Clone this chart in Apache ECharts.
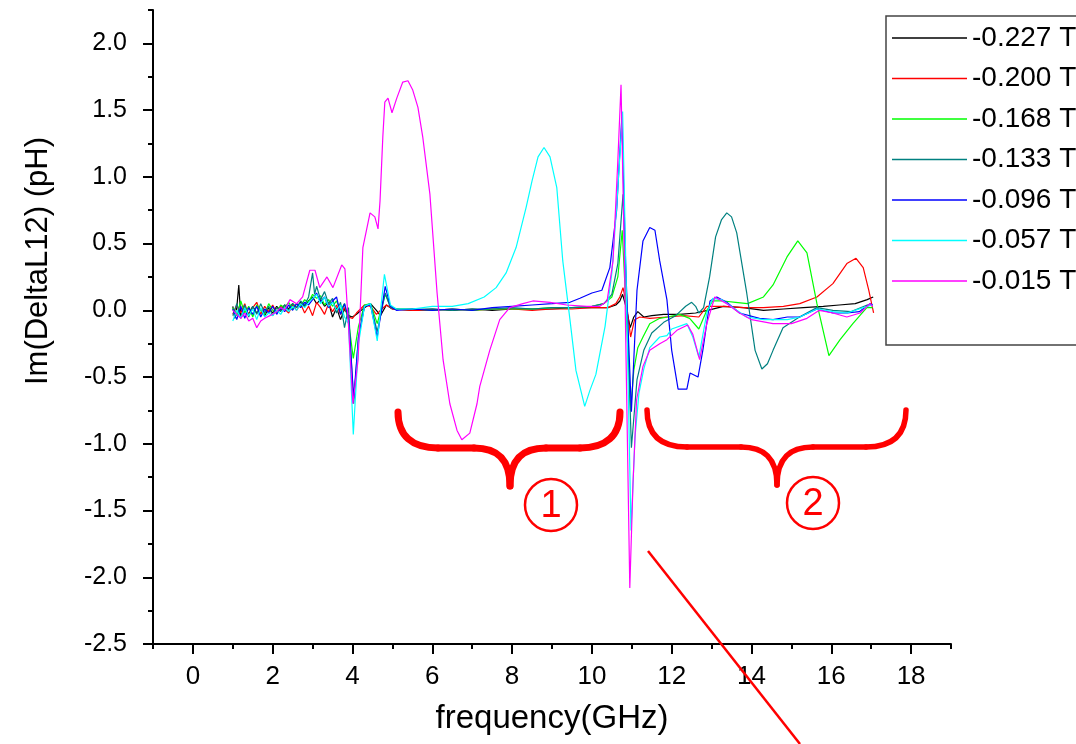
<!DOCTYPE html>
<html><head><meta charset="utf-8">
<script src="https://cdn.jsdelivr.net/npm/echarts@6/dist/echarts.min.js"></script>
<style>html,body{margin:0;padding:0;background:#fff}#c{width:1076px;height:744px}</style>
</head><body><div id="c"></div>
<script>
const seriesNames = ['-0.227 T','-0.200 T','-0.168 T','-0.133 T','-0.096 T','-0.057 T','-0.015 T'];
const seriesColors = ['#000000','#ff0000','#00ff00','#008080','#0000ff','#00ffff','#ff00ff'];
const xTickValues = [0,2,4,6,8,10,12,14,16,18];
const yTickValues = [-2.5,-2.0,-1.5,-1.0,-0.5,0.0,0.5,1.0,1.5,2.0];

const d227 = [[1.0,0.03],[1.05,-0.06],[1.1,0.02],[1.15,0.19],[1.2,-0.05],[1.3,0.02],[1.4,-0.03],[1.5,0.03],[1.6,-0.02],[1.7,0.01],[1.8,-0.04],[1.9,0.02],[2.0,-0.02],[2.1,0.03],[2.2,0.0],[2.3,0.04],[2.4,0.01],[2.5,0.05],[2.6,0.02],[2.7,0.06],[2.8,0.03],[2.9,0.07],[3.0,0.1],[3.1,0.05],[3.2,0.08],[3.3,0.03],[3.4,0.06],[3.5,-0.05],[3.6,0.02],[3.7,-0.07],[3.8,0.01],[3.9,-0.04],[4.0,-0.05],[4.1,-0.03],[4.3,0.02],[4.45,0.05],[4.6,0.0],[4.7,-0.04],[4.85,0.04],[5.0,0.01],[5.5,0.0],[6.0,0.01],[6.5,0.0],[7.0,0.01],[7.5,0.0],[8.0,0.01],[8.5,0.01],[9.0,0.01],[9.5,0.02],[10.0,0.02],[10.4,0.02],[10.6,0.04],[10.7,0.07],[10.77,0.12],[10.86,0.02],[10.96,-0.13],[11.05,-0.05],[11.15,-0.01],[11.3,-0.05],[11.5,-0.04],[11.8,-0.03],[12.2,-0.03],[12.6,-0.02],[12.9,0.0],[13.3,0.03],[13.8,0.02],[14.3,0.0],[14.8,0.01],[15.3,0.02],[15.8,0.03],[16.2,0.04],[16.6,0.05],[16.9,0.08],[17.05,0.1]];
const d200 = [[1.0,-0.03],[1.1,0.04],[1.2,-0.02],[1.3,0.05],[1.4,-0.04],[1.5,0.02],[1.6,0.06],[1.7,-0.03],[1.8,0.03],[1.9,-0.01],[2.0,0.04],[2.1,-0.02],[2.2,0.03],[2.3,0.01],[2.4,-0.02],[2.5,0.04],[2.6,0.0],[2.7,0.05],[2.8,-0.02],[2.9,0.03],[3.0,-0.04],[3.1,0.06],[3.2,0.02],[3.3,-0.03],[3.4,0.05],[3.5,-0.01],[3.6,0.04],[3.7,-0.03],[3.8,0.02],[3.9,-0.05],[4.0,-0.06],[4.1,-0.02],[4.3,0.04],[4.45,0.03],[4.6,-0.03],[4.7,0.0],[4.85,0.04],[5.0,0.01],[5.5,0.0],[6.0,0.0],[6.5,0.01],[7.0,0.0],[7.5,0.01],[8.0,0.01],[8.5,0.0],[9.0,0.01],[9.5,0.01],[10.0,0.02],[10.4,0.02],[10.6,0.05],[10.7,0.1],[10.78,0.17],[10.87,0.04],[10.97,-0.2],[11.07,-0.07],[11.2,-0.05],[11.45,-0.06],[11.88,-0.05],[12.3,-0.04],[12.68,-0.05],[12.88,0.03],[13.3,0.03],[13.8,0.02],[14.3,0.02],[14.8,0.03],[15.21,0.05],[15.64,0.1],[16.04,0.2],[16.39,0.35],[16.62,0.39],[16.8,0.32],[16.94,0.15],[17.06,-0.02]];
const d168 = [[1.0,0.02],[1.1,-0.04],[1.2,0.07],[1.3,-0.02],[1.4,0.03],[1.5,-0.05],[1.6,0.04],[1.7,0.0],[1.8,-0.03],[1.9,0.05],[2.0,0.0],[2.1,-0.02],[2.2,0.04],[2.3,0.02],[2.4,0.06],[2.5,0.01],[2.6,0.05],[2.7,0.03],[2.8,0.08],[2.9,0.06],[3.0,0.12],[3.1,0.09],[3.2,0.11],[3.3,0.04],[3.4,0.08],[3.5,0.03],[3.6,0.07],[3.7,0.0],[3.8,0.05],[3.9,-0.08],[4.02,-0.36],[4.15,-0.12],[4.3,0.04],[4.45,0.05],[4.62,-0.1],[4.82,0.12],[4.95,0.03],[5.1,0.01],[5.5,0.01],[6.0,0.0],[6.5,0.01],[7.0,0.0],[7.5,0.01],[8.0,0.01],[8.5,0.01],[9.0,0.02],[9.5,0.02],[10.0,0.03],[10.3,0.05],[10.5,0.1],[10.65,0.25],[10.76,0.6],[10.85,0.05],[10.97,-0.75],[11.05,-0.45],[11.15,-0.28],[11.28,-0.2],[11.45,-0.1],[11.7,-0.06],[11.9,-0.05],[12.2,-0.03],[12.45,-0.06],[12.68,-0.14],[12.88,0.0],[13.03,0.07],[13.3,0.07],[13.6,0.06],[13.9,0.05],[14.3,0.1],[14.54,0.19],[14.89,0.4],[15.16,0.52],[15.39,0.43],[15.64,0.05],[15.94,-0.34],[16.22,-0.22],[16.54,-0.1],[16.89,0.02],[17.04,0.02]];
const d133 = [[1.0,-0.04],[1.1,0.05],[1.2,-0.06],[1.3,0.04],[1.4,-0.05],[1.5,0.03],[1.6,-0.03],[1.7,0.05],[1.8,-0.02],[1.9,0.03],[2.0,-0.04],[2.1,0.02],[2.2,-0.01],[2.3,0.04],[2.4,0.0],[2.5,0.05],[2.6,0.02],[2.7,0.07],[2.8,0.04],[2.9,0.1],[3.0,0.28],[3.05,0.12],[3.1,0.18],[3.2,0.08],[3.3,0.14],[3.4,0.05],[3.5,0.09],[3.6,-0.02],[3.7,0.06],[3.8,-0.13],[3.9,0.02],[4.03,-0.7],[4.15,-0.2],[4.3,0.03],[4.45,0.05],[4.62,-0.16],[4.82,0.13],[4.95,0.02],[5.1,0.01],[5.5,0.01],[6.0,0.01],[6.5,0.0],[7.0,0.01],[7.5,0.01],[8.0,0.02],[8.5,0.01],[9.0,0.02],[9.5,0.02],[10.0,0.03],[10.3,0.05],[10.5,0.12],[10.65,0.35],[10.78,0.87],[10.87,0.1],[10.99,-1.03],[11.13,-0.52],[11.3,-0.3],[11.5,-0.17],[11.8,-0.09],[12.1,-0.04],[12.35,0.03],[12.5,0.06],[12.6,0.03],[12.68,-0.02],[12.8,0.02],[12.95,0.25],[13.1,0.55],[13.25,0.68],[13.38,0.73],[13.5,0.7],[13.63,0.58],[13.88,0.13],[14.09,-0.3],[14.26,-0.44],[14.4,-0.4],[14.54,-0.3],[14.79,-0.13],[15.2,-0.05],[15.64,0.02],[16.04,0.0],[16.5,-0.01],[16.9,0.04],[17.04,0.04]];
const d096 = [[1.0,0.01],[1.1,-0.07],[1.2,0.03],[1.3,-0.06],[1.4,0.02],[1.5,-0.03],[1.6,0.03],[1.7,-0.05],[1.8,0.01],[1.9,-0.02],[2.0,0.03],[2.1,-0.03],[2.2,0.02],[2.3,-0.01],[2.4,0.04],[2.5,0.0],[2.6,0.05],[2.7,0.02],[2.8,0.06],[2.9,0.04],[3.0,0.08],[3.1,0.13],[3.2,0.06],[3.3,0.1],[3.4,0.02],[3.5,0.07],[3.6,0.1],[3.7,-0.03],[3.8,0.05],[3.9,-0.06],[4.03,-0.66],[4.15,-0.2],[4.3,0.03],[4.45,0.04],[4.62,-0.2],[4.82,0.18],[4.95,0.03],[5.1,0.0],[5.5,0.01],[6.0,0.0],[6.5,0.01],[7.0,0.0],[7.5,0.02],[8.0,0.03],[8.5,0.04],[9.0,0.05],[9.45,0.06],[9.7,0.09],[10.0,0.13],[10.25,0.15],[10.45,0.32],[10.62,0.75],[10.75,1.45],[10.85,0.3],[10.99,-0.76],[11.13,0.15],[11.28,0.52],[11.45,0.62],[11.58,0.6],[11.7,0.37],[11.88,0.08],[12.0,-0.3],[12.16,-0.59],[12.38,-0.59],[12.46,-0.47],[12.66,-0.5],[12.78,-0.3],[12.96,0.07],[13.13,0.1],[13.38,0.06],[13.7,-0.02],[14.2,-0.06],[14.54,-0.07],[14.9,-0.05],[15.21,-0.05],[15.64,0.01],[16.04,-0.02],[16.4,-0.02],[16.7,-0.01],[16.97,0.05],[17.04,0.04]];
const d057 = [[1.0,-0.08],[1.1,0.0],[1.2,-0.06],[1.3,0.02],[1.4,-0.04],[1.5,0.01],[1.6,-0.07],[1.7,0.02],[1.8,-0.05],[1.9,-0.02],[2.0,-0.04],[2.1,0.0],[2.2,-0.03],[2.3,0.02],[2.4,-0.01],[2.5,0.03],[2.6,0.0],[2.7,0.05],[2.8,0.02],[2.9,0.06],[3.0,0.09],[3.1,0.12],[3.2,0.05],[3.3,0.1],[3.4,0.03],[3.5,0.06],[3.6,0.0],[3.7,0.04],[3.8,-0.05],[3.9,-0.1],[4.02,-0.93],[4.15,-0.25],[4.3,0.03],[4.45,0.05],[4.62,-0.23],[4.8,0.27],[4.95,0.04],[5.1,0.01],[5.5,0.01],[6.0,0.03],[6.5,0.03],[6.9,0.05],[7.3,0.1],[7.6,0.17],[7.85,0.28],[8.1,0.47],[8.35,0.77],[8.5,0.97],[8.65,1.15],[8.8,1.22],[8.95,1.15],[9.12,0.92],[9.27,0.37],[9.45,-0.07],[9.6,-0.45],[9.82,-0.72],[9.95,-0.6],[10.1,-0.48],[10.33,-0.12],[10.5,0.28],[10.63,0.82],[10.77,1.49],[10.86,0.2],[10.98,-1.65],[11.08,-0.95],[11.18,-0.62],[11.3,-0.44],[11.45,-0.28],[11.7,-0.2],[11.88,-0.19],[12.0,-0.14],[12.38,-0.1],[12.53,-0.2],[12.68,-0.35],[12.88,-0.02],[13.03,0.09],[13.25,0.08],[13.63,0.0],[13.88,-0.05],[14.3,-0.07],[14.9,-0.07],[15.21,-0.05],[15.64,0.01],[16.04,-0.01],[16.39,-0.02],[16.8,0.02],[17.04,0.04]];
const d015 = [[1.0,0.0],[1.1,-0.03],[1.2,-0.06],[1.3,-0.02],[1.4,-0.08],[1.5,-0.06],[1.6,-0.13],[1.7,-0.08],[1.8,-0.06],[1.93,-0.04],[2.1,-0.01],[2.2,0.02],[2.3,0.0],[2.43,0.08],[2.6,0.05],[2.75,0.1],[2.93,0.3],[3.06,0.3],[3.18,0.17],[3.36,0.25],[3.51,0.17],[3.73,0.34],[3.81,0.31],[3.9,-0.12],[4.01,-0.7],[4.14,-0.37],[4.26,0.47],[4.44,0.73],[4.56,0.7],[4.64,0.61],[4.69,0.82],[4.76,1.3],[4.81,1.56],[4.89,1.59],[4.99,1.48],[5.11,1.59],[5.26,1.71],[5.39,1.72],[5.51,1.65],[5.64,1.52],[5.76,1.3],[5.94,0.87],[6.12,0.13],[6.27,-0.37],[6.44,-0.7],[6.62,-0.9],[6.74,-0.97],[6.94,-0.92],[7.12,-0.7],[7.19,-0.57],[7.44,-0.3],[7.69,-0.07],[7.94,0.02],[8.27,0.05],[8.52,0.07],[8.95,0.06],[9.37,0.04],[9.87,0.03],[10.2,0.03],[10.38,0.07],[10.53,0.37],[10.65,1.12],[10.73,1.69],[10.82,0.3],[10.95,-2.08],[11.03,-1.3],[11.12,-0.67],[11.28,-0.42],[11.45,-0.3],[11.7,-0.25],[11.88,-0.22],[12.13,-0.15],[12.4,-0.11],[12.53,-0.18],[12.7,-0.37],[12.88,-0.1],[13.08,0.1],[13.38,0.05],[13.7,-0.02],[14.0,-0.07],[14.54,-0.1],[15.0,-0.1],[15.39,-0.06],[15.7,0.0],[16.04,-0.02],[16.39,-0.05],[16.72,-0.02],[16.97,0.05],[17.04,0.03]];

const seriesData = [d227, d200, d168, d133, d096, d057, d015];

// annotation helpers (decoration, not data)
function bez(x1, y1, c1x, c1y, c2x, c2y, x2, y2, w) {
  return {type: 'bezierCurve', z: 100, shape: {x1, y1, cpx1: c1x, cpy1: c1y, cpx2: c2x, cpy2: c2y, x2, y2},
    style: {fill: 'none', stroke: '#ff0000', lineWidth: w, lineCap: 'round'}};
}
function seg(x1, y1, x2, y2, w) {
  return {type: 'line', z: 100, shape: {x1, y1, x2, y2}, style: {stroke: '#ff0000', lineWidth: w, lineCap: 'round'}};
}
function brace(xl, xm, xr, yTop, yMid, yBot, w) {
  const r = 40;
  return [
    bez(xl, yTop, xl, yMid - 12, xl + 14, yMid, xl + r, yMid, w),
    seg(xl + r, yMid, xm - 36, yMid, w),
    bez(xm - 36, yMid, xm - 14, yMid, xm, yMid + 10, xm, yBot, w),
    bez(xm, yBot, xm, yMid + 10, xm + 14, yMid, xm + 36, yMid, w),
    seg(xm + 36, yMid, xr - r, yMid, w),
    bez(xr - r, yMid, xr - 14, yMid, xr, yMid - 12, xr, yTop, w)
  ];
}

const chart = echarts.init(document.getElementById('c'), null, {renderer: 'canvas'});
const axisCol = '#000';
const option = {
  animation: false,
  backgroundColor: '#fff',
  grid: {left: 153, top: 10, width: 798, height: 634},
  legend: {
    orient: 'vertical', left: 886, top: 16,
    itemWidth: 75, itemHeight: 1.5, itemGap: 12.5, icon: 'rect',
    padding: [8, 40, 50, 6],
    borderColor: '#444', borderWidth: 1.5, backgroundColor: '#fff',
    selectedMode: false,
    textStyle: {fontSize: 28, lineHeight: 28, color: '#000', fontFamily: 'Liberation Sans'},
    data: seriesNames
  },
  xAxis: [{
    type: 'value', min: -1, max: 19,
    name: 'frequency(GHz)', nameLocation: 'middle', nameGap: 58,
    nameTextStyle: {fontSize: 33, color: '#000', fontFamily: 'Liberation Sans'},
    axisLine: {show: true, onZero: false, lineStyle: {color: axisCol, width: 2}},
    axisTick: {show: true, inside: false, length: 10, lineStyle: {color: axisCol, width: 2}, customValues: xTickValues},
    axisLabel: {show: true, margin: 20, fontSize: 26, color: '#000', fontFamily: 'Liberation Sans', customValues: xTickValues, formatter: v => String(v)},
    splitLine: {show: false}
  }, {
    type: 'value', min: -1, max: 19, interval: 1, position: 'bottom',
    axisLine: {show: false, onZero: false}, axisLabel: {show: false}, splitLine: {show: false},
    axisTick: {show: true, inside: false, length: 5, lineStyle: {color: axisCol, width: 2}}
  }],
  yAxis: [{
    type: 'value', min: -2.5, max: 2.25,
    name: 'Im(DeltaL12) (pH)', nameLocation: 'middle', nameGap: 99,
    nameTextStyle: {fontSize: 31, color: '#000', fontFamily: 'Liberation Sans', padding: [0, 0, 0, 132]},
    axisLine: {show: true, onZero: false, lineStyle: {color: axisCol, width: 2}},
    axisTick: {show: true, inside: false, length: 10, lineStyle: {color: axisCol, width: 2}, customValues: yTickValues},
    axisLabel: {show: true, margin: 26, fontSize: 25, color: '#000', fontFamily: 'Liberation Sans', customValues: yTickValues, formatter: v => Number(v).toFixed(1)},
    splitLine: {show: false}
  }, {
    type: 'value', min: -2.5, max: 2.25, interval: 0.25, position: 'left', offset: 0,
    axisLine: {show: false, onZero: false}, axisLabel: {show: false}, splitLine: {show: false},
    axisTick: {show: true, inside: false, length: 5, lineStyle: {color: axisCol, width: 2}}
  }],
  series: seriesNames.map((n, i) => ({
    name: n, type: 'line', xAxisIndex: 0, yAxisIndex: 0,
    data: seriesData[i], showSymbol: false, symbol: 'none',
    color: seriesColors[i],
    lineStyle: {width: 1.2, color: seriesColors[i]},
    z: 2 + i
  })),
  graphic: {elements: [].concat(
    brace(398, 510, 620, 412, 448, 486, 7),
    brace(647, 777, 906, 410, 447, 485, 5.5),
    [
      {type: 'circle', z: 100, shape: {cx: 551, cy: 505, r: 26}, style: {fill: 'none', stroke: '#ff0000', lineWidth: 2.5}},
      {type: 'text', z: 100, x: 551, y: 507, style: {text: '1', fontSize: 38, fill: '#ff0000', align: 'center', verticalAlign: 'middle', fontFamily: 'Liberation Sans'}},
      {type: 'circle', z: 100, shape: {cx: 813, cy: 503, r: 26}, style: {fill: 'none', stroke: '#ff0000', lineWidth: 2.5}},
      {type: 'text', z: 100, x: 813, y: 505, style: {text: '2', fontSize: 38, fill: '#ff0000', align: 'center', verticalAlign: 'middle', fontFamily: 'Liberation Sans'}},
      {type: 'line', z: 100, shape: {x1: 648, y1: 551, x2: 800, y2: 744}, style: {stroke: '#ff0000', lineWidth: 2.5}}
    ]
  )}
};
chart.setOption(option);
</script>
</body></html>
